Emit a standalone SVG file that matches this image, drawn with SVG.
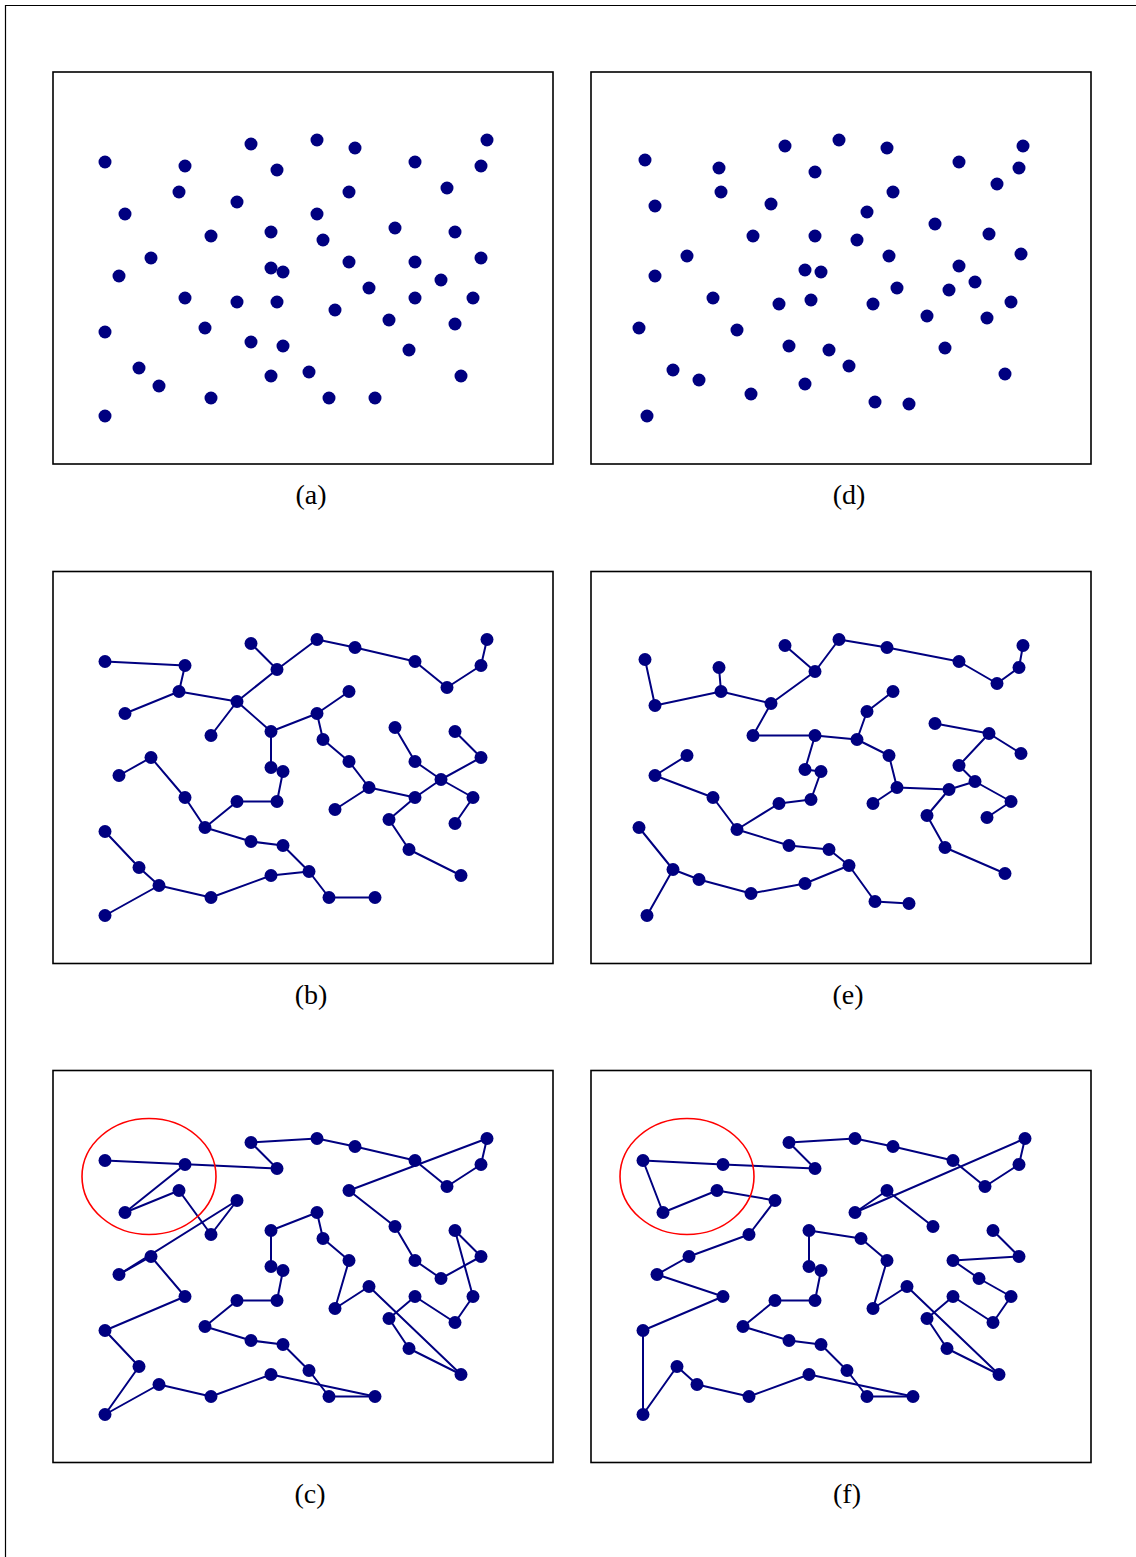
<svg xmlns="http://www.w3.org/2000/svg" width="1136" height="1557" viewBox="0 0 1136 1557">
<style>
.frame{fill:none;stroke:#000;stroke-width:1.6}
.nodes circle{fill:#000080}
.edges line{stroke:#000080;stroke-width:2;stroke-linecap:round}
.lbl{font-family:"Liberation Serif","Times New Roman",serif;font-size:28px;text-anchor:middle;fill:#000}
.ring{fill:none;stroke:#ff0000;stroke-width:1.6}
</style>
<rect width="1136" height="1557" fill="#fff"/>
<path d="M5.5,1557 V5.5 H1136" fill="none" stroke="#000" stroke-width="1.2"/>

<!-- Panel (a) -->
<g id="panel-a">
<rect class="frame" x="53" y="72" width="500" height="392"/>
<g class="nodes">
<g id="a1"><circle cx="105" cy="162" r="6.5"/></g><g id="a2"><circle cx="185" cy="166" r="6.5"/></g><g id="a3"><circle cx="251" cy="144" r="6.5"/></g><g id="a4"><circle cx="277" cy="170" r="6.5"/></g><g id="a5"><circle cx="317" cy="140" r="6.5"/></g><g id="a6"><circle cx="355" cy="148" r="6.5"/></g><g id="a7"><circle cx="415" cy="162" r="6.5"/></g><g id="a8"><circle cx="487" cy="140" r="6.5"/></g><g id="a9"><circle cx="481" cy="166" r="6.5"/></g><g id="a10"><circle cx="447" cy="188" r="6.5"/></g>
<g id="a11"><circle cx="179" cy="192" r="6.5"/></g><g id="a12"><circle cx="237" cy="202" r="6.5"/></g><g id="a13"><circle cx="349" cy="192" r="6.5"/></g><g id="a14"><circle cx="125" cy="214" r="6.5"/></g><g id="a15"><circle cx="317" cy="214" r="6.5"/></g><g id="a16"><circle cx="211" cy="236" r="6.5"/></g><g id="a17"><circle cx="271" cy="232" r="6.5"/></g><g id="a18"><circle cx="323" cy="240" r="6.5"/></g><g id="a19"><circle cx="395" cy="228" r="6.5"/></g><g id="a20"><circle cx="455" cy="232" r="6.5"/></g>
<g id="a21"><circle cx="151" cy="258" r="6.5"/></g><g id="a22"><circle cx="119" cy="276" r="6.5"/></g><g id="a23"><circle cx="271" cy="268" r="6.5"/></g><g id="a24"><circle cx="283" cy="272" r="6.5"/></g><g id="a25"><circle cx="349" cy="262" r="6.5"/></g><g id="a26"><circle cx="415" cy="262" r="6.5"/></g><g id="a27"><circle cx="481" cy="258" r="6.5"/></g><g id="a28"><circle cx="441" cy="280" r="6.5"/></g><g id="a29"><circle cx="369" cy="288" r="6.5"/></g><g id="a30"><circle cx="185" cy="298" r="6.5"/></g>
<g id="a31"><circle cx="237" cy="302" r="6.5"/></g><g id="a32"><circle cx="277" cy="302" r="6.5"/></g><g id="a33"><circle cx="335" cy="310" r="6.5"/></g><g id="a34"><circle cx="415" cy="298" r="6.5"/></g><g id="a35"><circle cx="473" cy="298" r="6.5"/></g><g id="a36"><circle cx="105" cy="332" r="6.5"/></g><g id="a37"><circle cx="205" cy="328" r="6.5"/></g><g id="a38"><circle cx="389" cy="320" r="6.5"/></g><g id="a39"><circle cx="455" cy="324" r="6.5"/></g><g id="a40"><circle cx="251" cy="342" r="6.5"/></g>
<g id="a41"><circle cx="283" cy="346" r="6.5"/></g><g id="a42"><circle cx="409" cy="350" r="6.5"/></g><g id="a43"><circle cx="139" cy="368" r="6.5"/></g><g id="a44"><circle cx="159" cy="386" r="6.5"/></g><g id="a45"><circle cx="271" cy="376" r="6.5"/></g><g id="a46"><circle cx="309" cy="372" r="6.5"/></g><g id="a47"><circle cx="461" cy="376" r="6.5"/></g><g id="a48"><circle cx="211" cy="398" r="6.5"/></g><g id="a49"><circle cx="329" cy="398" r="6.5"/></g><g id="a50"><circle cx="375" cy="398" r="6.5"/></g>
<g id="a51"><circle cx="105" cy="416" r="6.5"/></g>
</g>
<text class="lbl" x="311" y="504">(a)</text>
</g>

<!-- Panel (b) -->
<g id="panel-b" transform="translate(0,499.5)">
<rect class="frame" x="53" y="72" width="500" height="392"/>
<g class="edges" id="b-connectors">
<line x1="105" y1="162" x2="185" y2="166"/><line x1="185" y1="166" x2="179" y2="192"/><line x1="179" y1="192" x2="125" y2="214"/><line x1="179" y1="192" x2="237" y2="202"/><line x1="237" y1="202" x2="277" y2="170"/><line x1="251" y1="144" x2="277" y2="170"/><line x1="277" y1="170" x2="317" y2="140"/><line x1="237" y1="202" x2="211" y2="236"/><line x1="237" y1="202" x2="271" y2="232"/><line x1="271" y1="232" x2="317" y2="214"/>
<line x1="271" y1="232" x2="271" y2="268"/><line x1="271" y1="268" x2="283" y2="272"/><line x1="283" y1="272" x2="277" y2="302"/><line x1="277" y1="302" x2="237" y2="302"/><line x1="237" y1="302" x2="205" y2="328"/><line x1="151" y1="258" x2="119" y2="276"/><line x1="151" y1="258" x2="185" y2="298"/><line x1="185" y1="298" x2="205" y2="328"/><line x1="205" y1="328" x2="251" y2="342"/><line x1="251" y1="342" x2="283" y2="346"/>
<line x1="283" y1="346" x2="309" y2="372"/><line x1="271" y1="376" x2="309" y2="372"/><line x1="105" y1="332" x2="139" y2="368"/><line x1="139" y1="368" x2="159" y2="386"/><line x1="159" y1="386" x2="105" y2="416"/><line x1="159" y1="386" x2="211" y2="398"/><line x1="211" y1="398" x2="271" y2="376"/>
<line x1="317" y1="140" x2="355" y2="148"/><line x1="355" y1="148" x2="415" y2="162"/><line x1="415" y1="162" x2="447" y2="188"/><line x1="447" y1="188" x2="481" y2="166"/><line x1="481" y1="166" x2="487" y2="140"/><line x1="349" y1="192" x2="317" y2="214"/><line x1="317" y1="214" x2="323" y2="240"/><line x1="323" y1="240" x2="349" y2="262"/><line x1="349" y1="262" x2="369" y2="288"/><line x1="369" y1="288" x2="335" y2="310"/>
<line x1="369" y1="288" x2="415" y2="298"/><line x1="395" y1="228" x2="415" y2="262"/><line x1="415" y1="262" x2="441" y2="280"/><line x1="455" y1="232" x2="481" y2="258"/><line x1="481" y1="258" x2="441" y2="280"/><line x1="441" y1="280" x2="473" y2="298"/><line x1="473" y1="298" x2="455" y2="324"/><line x1="441" y1="280" x2="415" y2="298"/><line x1="415" y1="298" x2="389" y2="320"/><line x1="389" y1="320" x2="409" y2="350"/>
<line x1="409" y1="350" x2="461" y2="376"/><line x1="309" y1="372" x2="329" y2="398"/><line x1="329" y1="398" x2="375" y2="398"/>
</g>
<g class="nodes">
<g id="b1"><circle cx="105" cy="162" r="6.5"/></g><g id="b2"><circle cx="185" cy="166" r="6.5"/></g><g id="b3"><circle cx="251" cy="144" r="6.5"/></g><g id="b4"><circle cx="277" cy="170" r="6.5"/></g><g id="b5"><circle cx="317" cy="140" r="6.5"/></g><g id="b6"><circle cx="355" cy="148" r="6.5"/></g><g id="b7"><circle cx="415" cy="162" r="6.5"/></g><g id="b8"><circle cx="487" cy="140" r="6.5"/></g><g id="b9"><circle cx="481" cy="166" r="6.5"/></g><g id="b10"><circle cx="447" cy="188" r="6.5"/></g>
<g id="b11"><circle cx="179" cy="192" r="6.5"/></g><g id="b12"><circle cx="237" cy="202" r="6.5"/></g><g id="b13"><circle cx="349" cy="192" r="6.5"/></g><g id="b14"><circle cx="125" cy="214" r="6.5"/></g><g id="b15"><circle cx="317" cy="214" r="6.5"/></g><g id="b16"><circle cx="211" cy="236" r="6.5"/></g><g id="b17"><circle cx="271" cy="232" r="6.5"/></g><g id="b18"><circle cx="323" cy="240" r="6.5"/></g><g id="b19"><circle cx="395" cy="228" r="6.5"/></g><g id="b20"><circle cx="455" cy="232" r="6.5"/></g>
<g id="b21"><circle cx="151" cy="258" r="6.5"/></g><g id="b22"><circle cx="119" cy="276" r="6.5"/></g><g id="b23"><circle cx="271" cy="268" r="6.5"/></g><g id="b24"><circle cx="283" cy="272" r="6.5"/></g><g id="b25"><circle cx="349" cy="262" r="6.5"/></g><g id="b26"><circle cx="415" cy="262" r="6.5"/></g><g id="b27"><circle cx="481" cy="258" r="6.5"/></g><g id="b28"><circle cx="441" cy="280" r="6.5"/></g><g id="b29"><circle cx="369" cy="288" r="6.5"/></g><g id="b30"><circle cx="185" cy="298" r="6.5"/></g>
<g id="b31"><circle cx="237" cy="302" r="6.5"/></g><g id="b32"><circle cx="277" cy="302" r="6.5"/></g><g id="b33"><circle cx="335" cy="310" r="6.5"/></g><g id="b34"><circle cx="415" cy="298" r="6.5"/></g><g id="b35"><circle cx="473" cy="298" r="6.5"/></g><g id="b36"><circle cx="105" cy="332" r="6.5"/></g><g id="b37"><circle cx="205" cy="328" r="6.5"/></g><g id="b38"><circle cx="389" cy="320" r="6.5"/></g><g id="b39"><circle cx="455" cy="324" r="6.5"/></g><g id="b40"><circle cx="251" cy="342" r="6.5"/></g>
<g id="b41"><circle cx="283" cy="346" r="6.5"/></g><g id="b42"><circle cx="409" cy="350" r="6.5"/></g><g id="b43"><circle cx="139" cy="368" r="6.5"/></g><g id="b44"><circle cx="159" cy="386" r="6.5"/></g><g id="b45"><circle cx="271" cy="376" r="6.5"/></g><g id="b46"><circle cx="309" cy="372" r="6.5"/></g><g id="b47"><circle cx="461" cy="376" r="6.5"/></g><g id="b48"><circle cx="211" cy="398" r="6.5"/></g><g id="b49"><circle cx="329" cy="398" r="6.5"/></g><g id="b50"><circle cx="375" cy="398" r="6.5"/></g>
<g id="b51"><circle cx="105" cy="416" r="6.5"/></g>
</g>
<text class="lbl" x="311" y="504">(b)</text>
</g>

<!-- Panel (c) -->
<g id="panel-c" transform="translate(0,998.5)">
<rect class="frame" x="53" y="72" width="500" height="392"/>
<g class="edges" id="c-connectors">
<line x1="105" y1="162" x2="277" y2="170"/><line x1="185" y1="166" x2="125" y2="214"/><line x1="125" y1="214" x2="179" y2="192"/><line x1="179" y1="192" x2="211" y2="236"/><line x1="211" y1="236" x2="237" y2="202"/><line x1="237" y1="202" x2="119" y2="276"/><line x1="119" y1="276" x2="151" y2="258"/><line x1="151" y1="258" x2="185" y2="298"/><line x1="185" y1="298" x2="105" y2="332"/><line x1="105" y1="332" x2="139" y2="368"/>
<line x1="139" y1="368" x2="105" y2="416"/><line x1="105" y1="416" x2="159" y2="386"/><line x1="159" y1="386" x2="211" y2="398"/><line x1="211" y1="398" x2="271" y2="376"/><line x1="271" y1="376" x2="375" y2="398"/><line x1="375" y1="398" x2="329" y2="398"/><line x1="329" y1="398" x2="309" y2="372"/><line x1="309" y1="372" x2="283" y2="346"/><line x1="283" y1="346" x2="251" y2="342"/><line x1="251" y1="342" x2="205" y2="328"/>
<line x1="205" y1="328" x2="237" y2="302"/><line x1="237" y1="302" x2="277" y2="302"/><line x1="277" y1="302" x2="283" y2="272"/><line x1="283" y1="272" x2="271" y2="268"/><line x1="271" y1="268" x2="271" y2="232"/><line x1="271" y1="232" x2="317" y2="214"/><line x1="317" y1="214" x2="323" y2="240"/><line x1="323" y1="240" x2="349" y2="262"/><line x1="349" y1="262" x2="335" y2="310"/><line x1="335" y1="310" x2="369" y2="288"/>
<line x1="369" y1="288" x2="461" y2="376"/><line x1="461" y1="376" x2="409" y2="350"/><line x1="409" y1="350" x2="389" y2="320"/><line x1="389" y1="320" x2="415" y2="298"/><line x1="415" y1="298" x2="455" y2="324"/><line x1="455" y1="324" x2="473" y2="298"/><line x1="473" y1="298" x2="455" y2="232"/><line x1="455" y1="232" x2="481" y2="258"/><line x1="481" y1="258" x2="441" y2="280"/><line x1="441" y1="280" x2="415" y2="262"/>
<line x1="415" y1="262" x2="395" y2="228"/><line x1="395" y1="228" x2="349" y2="192"/><line x1="349" y1="192" x2="487" y2="140"/><line x1="487" y1="140" x2="481" y2="166"/><line x1="481" y1="166" x2="447" y2="188"/><line x1="447" y1="188" x2="415" y2="162"/><line x1="415" y1="162" x2="355" y2="148"/><line x1="355" y1="148" x2="317" y2="140"/><line x1="317" y1="140" x2="251" y2="144"/><line x1="251" y1="144" x2="277" y2="170"/>
</g>
<g class="nodes">
<g id="c1"><circle cx="105" cy="162" r="6.5"/></g><g id="c2"><circle cx="185" cy="166" r="6.5"/></g><g id="c3"><circle cx="251" cy="144" r="6.5"/></g><g id="c4"><circle cx="277" cy="170" r="6.5"/></g><g id="c5"><circle cx="317" cy="140" r="6.5"/></g><g id="c6"><circle cx="355" cy="148" r="6.5"/></g><g id="c7"><circle cx="415" cy="162" r="6.5"/></g><g id="c8"><circle cx="487" cy="140" r="6.5"/></g><g id="c9"><circle cx="481" cy="166" r="6.5"/></g><g id="c10"><circle cx="447" cy="188" r="6.5"/></g>
<g id="c11"><circle cx="179" cy="192" r="6.5"/></g><g id="c12"><circle cx="237" cy="202" r="6.5"/></g><g id="c13"><circle cx="349" cy="192" r="6.5"/></g><g id="c14"><circle cx="125" cy="214" r="6.5"/></g><g id="c15"><circle cx="317" cy="214" r="6.5"/></g><g id="c16"><circle cx="211" cy="236" r="6.5"/></g><g id="c17"><circle cx="271" cy="232" r="6.5"/></g><g id="c18"><circle cx="323" cy="240" r="6.5"/></g><g id="c19"><circle cx="395" cy="228" r="6.5"/></g><g id="c20"><circle cx="455" cy="232" r="6.5"/></g>
<g id="c21"><circle cx="151" cy="258" r="6.5"/></g><g id="c22"><circle cx="119" cy="276" r="6.5"/></g><g id="c23"><circle cx="271" cy="268" r="6.5"/></g><g id="c24"><circle cx="283" cy="272" r="6.5"/></g><g id="c25"><circle cx="349" cy="262" r="6.5"/></g><g id="c26"><circle cx="415" cy="262" r="6.5"/></g><g id="c27"><circle cx="481" cy="258" r="6.5"/></g><g id="c28"><circle cx="441" cy="280" r="6.5"/></g><g id="c29"><circle cx="369" cy="288" r="6.5"/></g><g id="c30"><circle cx="185" cy="298" r="6.5"/></g>
<g id="c31"><circle cx="237" cy="302" r="6.5"/></g><g id="c32"><circle cx="277" cy="302" r="6.5"/></g><g id="c33"><circle cx="335" cy="310" r="6.5"/></g><g id="c34"><circle cx="415" cy="298" r="6.5"/></g><g id="c35"><circle cx="473" cy="298" r="6.5"/></g><g id="c36"><circle cx="105" cy="332" r="6.5"/></g><g id="c37"><circle cx="205" cy="328" r="6.5"/></g><g id="c38"><circle cx="389" cy="320" r="6.5"/></g><g id="c39"><circle cx="455" cy="324" r="6.5"/></g><g id="c40"><circle cx="251" cy="342" r="6.5"/></g>
<g id="c41"><circle cx="283" cy="346" r="6.5"/></g><g id="c42"><circle cx="409" cy="350" r="6.5"/></g><g id="c43"><circle cx="139" cy="368" r="6.5"/></g><g id="c44"><circle cx="159" cy="386" r="6.5"/></g><g id="c45"><circle cx="271" cy="376" r="6.5"/></g><g id="c46"><circle cx="309" cy="372" r="6.5"/></g><g id="c47"><circle cx="461" cy="376" r="6.5"/></g><g id="c48"><circle cx="211" cy="398" r="6.5"/></g><g id="c49"><circle cx="329" cy="398" r="6.5"/></g><g id="c50"><circle cx="375" cy="398" r="6.5"/></g>
<g id="c51"><circle cx="105" cy="416" r="6.5"/></g>
</g>
<ellipse id="c-ring" class="ring" cx="149" cy="178" rx="67" ry="58"/>
<text class="lbl" x="310" y="504">(c)</text>
</g>

<!-- Panel (d) -->
<g id="panel-d">
<rect class="frame" x="591" y="72" width="500" height="392"/>
<g class="nodes">
<g id="d1"><circle cx="645" cy="160" r="6.5"/></g><g id="d2"><circle cx="719" cy="168" r="6.5"/></g><g id="d3"><circle cx="785" cy="146" r="6.5"/></g><g id="d4"><circle cx="839" cy="140" r="6.5"/></g><g id="d5"><circle cx="815" cy="172" r="6.5"/></g><g id="d6"><circle cx="721" cy="192" r="6.5"/></g><g id="d7"><circle cx="655" cy="206" r="6.5"/></g><g id="d8"><circle cx="771" cy="204" r="6.5"/></g><g id="d9"><circle cx="753" cy="236" r="6.5"/></g><g id="d10"><circle cx="815" cy="236" r="6.5"/></g>
<g id="d11"><circle cx="687" cy="256" r="6.5"/></g><g id="d12"><circle cx="655" cy="276" r="6.5"/></g><g id="d13"><circle cx="805" cy="270" r="6.5"/></g><g id="d14"><circle cx="821" cy="272" r="6.5"/></g><g id="d15"><circle cx="713" cy="298" r="6.5"/></g><g id="d16"><circle cx="779" cy="304" r="6.5"/></g><g id="d17"><circle cx="811" cy="300" r="6.5"/></g><g id="d18"><circle cx="639" cy="328" r="6.5"/></g><g id="d19"><circle cx="737" cy="330" r="6.5"/></g><g id="d20"><circle cx="789" cy="346" r="6.5"/></g>
<g id="d21"><circle cx="829" cy="350" r="6.5"/></g><g id="d22"><circle cx="849" cy="366" r="6.5"/></g><g id="d23"><circle cx="673" cy="370" r="6.5"/></g><g id="d24"><circle cx="699" cy="380" r="6.5"/></g><g id="d25"><circle cx="805" cy="384" r="6.5"/></g><g id="d26"><circle cx="751" cy="394" r="6.5"/></g><g id="d27"><circle cx="647" cy="416" r="6.5"/></g><g id="d28"><circle cx="887" cy="148" r="6.5"/></g><g id="d29"><circle cx="1023" cy="146" r="6.5"/></g><g id="d30"><circle cx="959" cy="162" r="6.5"/></g>
<g id="d31"><circle cx="1019" cy="168" r="6.5"/></g><g id="d32"><circle cx="997" cy="184" r="6.5"/></g><g id="d33"><circle cx="893" cy="192" r="6.5"/></g><g id="d34"><circle cx="867" cy="212" r="6.5"/></g><g id="d35"><circle cx="935" cy="224" r="6.5"/></g><g id="d36"><circle cx="989" cy="234" r="6.5"/></g><g id="d37"><circle cx="857" cy="240" r="6.5"/></g><g id="d38"><circle cx="889" cy="256" r="6.5"/></g><g id="d39"><circle cx="1021" cy="254" r="6.5"/></g><g id="d40"><circle cx="959" cy="266" r="6.5"/></g>
<g id="d41"><circle cx="975" cy="282" r="6.5"/></g><g id="d42"><circle cx="897" cy="288" r="6.5"/></g><g id="d43"><circle cx="949" cy="290" r="6.5"/></g><g id="d44"><circle cx="873" cy="304" r="6.5"/></g><g id="d45"><circle cx="1011" cy="302" r="6.5"/></g><g id="d46"><circle cx="927" cy="316" r="6.5"/></g><g id="d47"><circle cx="987" cy="318" r="6.5"/></g><g id="d48"><circle cx="945" cy="348" r="6.5"/></g><g id="d49"><circle cx="1005" cy="374" r="6.5"/></g><g id="d50"><circle cx="875" cy="402" r="6.5"/></g>
<g id="d51"><circle cx="909" cy="404" r="6.5"/></g>
</g>
<text class="lbl" x="849" y="504">(d)</text>
</g>

<!-- Panel (e) -->
<g id="panel-e" transform="translate(0,499.5)">
<rect class="frame" x="591" y="72" width="500" height="392"/>
<g class="edges" id="e-connectors">
<line x1="645" y1="160" x2="655" y2="206"/><line x1="655" y1="206" x2="721" y2="192"/><line x1="721" y1="192" x2="719" y2="168"/><line x1="721" y1="192" x2="771" y2="204"/><line x1="771" y1="204" x2="815" y2="172"/><line x1="785" y1="146" x2="815" y2="172"/><line x1="815" y1="172" x2="839" y2="140"/><line x1="839" y1="140" x2="887" y2="148"/><line x1="771" y1="204" x2="753" y2="236"/><line x1="753" y1="236" x2="815" y2="236"/>
<line x1="815" y1="236" x2="857" y2="240"/><line x1="815" y1="236" x2="805" y2="270"/><line x1="805" y1="270" x2="821" y2="272"/><line x1="821" y1="272" x2="811" y2="300"/><line x1="811" y1="300" x2="779" y2="304"/><line x1="779" y1="304" x2="737" y2="330"/><line x1="687" y1="256" x2="655" y2="276"/><line x1="655" y1="276" x2="713" y2="298"/><line x1="713" y1="298" x2="737" y2="330"/><line x1="737" y1="330" x2="789" y2="346"/>
<line x1="789" y1="346" x2="829" y2="350"/><line x1="829" y1="350" x2="849" y2="366"/><line x1="639" y1="328" x2="673" y2="370"/><line x1="673" y1="370" x2="647" y2="416"/><line x1="673" y1="370" x2="699" y2="380"/><line x1="699" y1="380" x2="751" y2="394"/><line x1="751" y1="394" x2="805" y2="384"/><line x1="805" y1="384" x2="849" y2="366"/>
<line x1="887" y1="148" x2="959" y2="162"/><line x1="959" y1="162" x2="997" y2="184"/><line x1="997" y1="184" x2="1019" y2="168"/><line x1="1019" y1="168" x2="1023" y2="146"/><line x1="893" y1="192" x2="867" y2="212"/><line x1="867" y1="212" x2="857" y2="240"/><line x1="857" y1="240" x2="889" y2="256"/><line x1="889" y1="256" x2="897" y2="288"/><line x1="897" y1="288" x2="873" y2="304"/><line x1="897" y1="288" x2="949" y2="290"/>
<line x1="935" y1="224" x2="989" y2="234"/><line x1="989" y1="234" x2="1021" y2="254"/><line x1="989" y1="234" x2="959" y2="266"/><line x1="959" y1="266" x2="975" y2="282"/><line x1="949" y1="290" x2="975" y2="282"/><line x1="975" y1="282" x2="1011" y2="302"/><line x1="1011" y1="302" x2="987" y2="318"/><line x1="949" y1="290" x2="927" y2="316"/><line x1="927" y1="316" x2="945" y2="348"/><line x1="945" y1="348" x2="1005" y2="374"/>
<line x1="849" y1="366" x2="875" y2="402"/><line x1="875" y1="402" x2="909" y2="404"/>
</g>
<g class="nodes">
<g id="e1"><circle cx="645" cy="160" r="6.5"/></g><g id="e2"><circle cx="719" cy="168" r="6.5"/></g><g id="e3"><circle cx="785" cy="146" r="6.5"/></g><g id="e4"><circle cx="839" cy="140" r="6.5"/></g><g id="e5"><circle cx="815" cy="172" r="6.5"/></g><g id="e6"><circle cx="721" cy="192" r="6.5"/></g><g id="e7"><circle cx="655" cy="206" r="6.5"/></g><g id="e8"><circle cx="771" cy="204" r="6.5"/></g><g id="e9"><circle cx="753" cy="236" r="6.5"/></g><g id="e10"><circle cx="815" cy="236" r="6.5"/></g>
<g id="e11"><circle cx="687" cy="256" r="6.5"/></g><g id="e12"><circle cx="655" cy="276" r="6.5"/></g><g id="e13"><circle cx="805" cy="270" r="6.5"/></g><g id="e14"><circle cx="821" cy="272" r="6.5"/></g><g id="e15"><circle cx="713" cy="298" r="6.5"/></g><g id="e16"><circle cx="779" cy="304" r="6.5"/></g><g id="e17"><circle cx="811" cy="300" r="6.5"/></g><g id="e18"><circle cx="639" cy="328" r="6.5"/></g><g id="e19"><circle cx="737" cy="330" r="6.5"/></g><g id="e20"><circle cx="789" cy="346" r="6.5"/></g>
<g id="e21"><circle cx="829" cy="350" r="6.5"/></g><g id="e22"><circle cx="849" cy="366" r="6.5"/></g><g id="e23"><circle cx="673" cy="370" r="6.5"/></g><g id="e24"><circle cx="699" cy="380" r="6.5"/></g><g id="e25"><circle cx="805" cy="384" r="6.5"/></g><g id="e26"><circle cx="751" cy="394" r="6.5"/></g><g id="e27"><circle cx="647" cy="416" r="6.5"/></g><g id="e28"><circle cx="887" cy="148" r="6.5"/></g><g id="e29"><circle cx="1023" cy="146" r="6.5"/></g><g id="e30"><circle cx="959" cy="162" r="6.5"/></g>
<g id="e31"><circle cx="1019" cy="168" r="6.5"/></g><g id="e32"><circle cx="997" cy="184" r="6.5"/></g><g id="e33"><circle cx="893" cy="192" r="6.5"/></g><g id="e34"><circle cx="867" cy="212" r="6.5"/></g><g id="e35"><circle cx="935" cy="224" r="6.5"/></g><g id="e36"><circle cx="989" cy="234" r="6.5"/></g><g id="e37"><circle cx="857" cy="240" r="6.5"/></g><g id="e38"><circle cx="889" cy="256" r="6.5"/></g><g id="e39"><circle cx="1021" cy="254" r="6.5"/></g><g id="e40"><circle cx="959" cy="266" r="6.5"/></g>
<g id="e41"><circle cx="975" cy="282" r="6.5"/></g><g id="e42"><circle cx="897" cy="288" r="6.5"/></g><g id="e43"><circle cx="949" cy="290" r="6.5"/></g><g id="e44"><circle cx="873" cy="304" r="6.5"/></g><g id="e45"><circle cx="1011" cy="302" r="6.5"/></g><g id="e46"><circle cx="927" cy="316" r="6.5"/></g><g id="e47"><circle cx="987" cy="318" r="6.5"/></g><g id="e48"><circle cx="945" cy="348" r="6.5"/></g><g id="e49"><circle cx="1005" cy="374" r="6.5"/></g><g id="e50"><circle cx="875" cy="402" r="6.5"/></g>
<g id="e51"><circle cx="909" cy="404" r="6.5"/></g>
</g>
<text class="lbl" x="848" y="504">(e)</text>
</g>

<!-- Panel (f) -->
<g id="panel-f" transform="translate(538,998.5)">
<rect class="frame" x="53" y="72" width="500" height="392"/>
<g class="edges" id="f-connectors">
<line x1="395" y1="228" x2="349" y2="192"/><line x1="349" y1="192" x2="317" y2="214"/><line x1="317" y1="214" x2="487" y2="140"/><line x1="487" y1="140" x2="481" y2="166"/><line x1="481" y1="166" x2="447" y2="188"/><line x1="447" y1="188" x2="415" y2="162"/><line x1="415" y1="162" x2="355" y2="148"/><line x1="355" y1="148" x2="317" y2="140"/><line x1="317" y1="140" x2="251" y2="144"/><line x1="251" y1="144" x2="277" y2="170"/>
<line x1="277" y1="170" x2="185" y2="166"/><line x1="185" y1="166" x2="105" y2="162"/><line x1="105" y1="162" x2="125" y2="214"/><line x1="125" y1="214" x2="179" y2="192"/><line x1="179" y1="192" x2="237" y2="202"/><line x1="237" y1="202" x2="211" y2="236"/><line x1="211" y1="236" x2="151" y2="258"/><line x1="151" y1="258" x2="119" y2="276"/><line x1="119" y1="276" x2="185" y2="298"/><line x1="185" y1="298" x2="105" y2="332"/>
<line x1="105" y1="332" x2="105" y2="416"/><line x1="105" y1="416" x2="139" y2="368"/><line x1="139" y1="368" x2="159" y2="386"/><line x1="159" y1="386" x2="211" y2="398"/><line x1="211" y1="398" x2="271" y2="376"/><line x1="271" y1="376" x2="375" y2="398"/><line x1="375" y1="398" x2="329" y2="398"/><line x1="329" y1="398" x2="309" y2="372"/><line x1="309" y1="372" x2="283" y2="346"/><line x1="283" y1="346" x2="251" y2="342"/>
<line x1="251" y1="342" x2="205" y2="328"/><line x1="205" y1="328" x2="237" y2="302"/><line x1="237" y1="302" x2="277" y2="302"/><line x1="277" y1="302" x2="283" y2="272"/><line x1="283" y1="272" x2="271" y2="268"/><line x1="271" y1="268" x2="271" y2="232"/><line x1="271" y1="232" x2="323" y2="240"/><line x1="323" y1="240" x2="349" y2="262"/><line x1="349" y1="262" x2="335" y2="310"/><line x1="335" y1="310" x2="369" y2="288"/>
<line x1="369" y1="288" x2="461" y2="376"/><line x1="461" y1="376" x2="409" y2="350"/><line x1="409" y1="350" x2="389" y2="320"/><line x1="389" y1="320" x2="415" y2="298"/><line x1="415" y1="298" x2="455" y2="324"/><line x1="455" y1="324" x2="473" y2="298"/><line x1="473" y1="298" x2="441" y2="280"/><line x1="441" y1="280" x2="415" y2="262"/><line x1="415" y1="262" x2="481" y2="258"/><line x1="481" y1="258" x2="455" y2="232"/>
</g>
<g class="nodes">
<g id="f1"><circle cx="105" cy="162" r="6.5"/></g><g id="f2"><circle cx="185" cy="166" r="6.5"/></g><g id="f3"><circle cx="251" cy="144" r="6.5"/></g><g id="f4"><circle cx="277" cy="170" r="6.5"/></g><g id="f5"><circle cx="317" cy="140" r="6.5"/></g><g id="f6"><circle cx="355" cy="148" r="6.5"/></g><g id="f7"><circle cx="415" cy="162" r="6.5"/></g><g id="f8"><circle cx="487" cy="140" r="6.5"/></g><g id="f9"><circle cx="481" cy="166" r="6.5"/></g><g id="f10"><circle cx="447" cy="188" r="6.5"/></g>
<g id="f11"><circle cx="179" cy="192" r="6.5"/></g><g id="f12"><circle cx="237" cy="202" r="6.5"/></g><g id="f13"><circle cx="349" cy="192" r="6.5"/></g><g id="f14"><circle cx="125" cy="214" r="6.5"/></g><g id="f15"><circle cx="317" cy="214" r="6.5"/></g><g id="f16"><circle cx="211" cy="236" r="6.5"/></g><g id="f17"><circle cx="271" cy="232" r="6.5"/></g><g id="f18"><circle cx="323" cy="240" r="6.5"/></g><g id="f19"><circle cx="395" cy="228" r="6.5"/></g><g id="f20"><circle cx="455" cy="232" r="6.5"/></g>
<g id="f21"><circle cx="151" cy="258" r="6.5"/></g><g id="f22"><circle cx="119" cy="276" r="6.5"/></g><g id="f23"><circle cx="271" cy="268" r="6.5"/></g><g id="f24"><circle cx="283" cy="272" r="6.5"/></g><g id="f25"><circle cx="349" cy="262" r="6.5"/></g><g id="f26"><circle cx="415" cy="262" r="6.5"/></g><g id="f27"><circle cx="481" cy="258" r="6.5"/></g><g id="f28"><circle cx="441" cy="280" r="6.5"/></g><g id="f29"><circle cx="369" cy="288" r="6.5"/></g><g id="f30"><circle cx="185" cy="298" r="6.5"/></g>
<g id="f31"><circle cx="237" cy="302" r="6.5"/></g><g id="f32"><circle cx="277" cy="302" r="6.5"/></g><g id="f33"><circle cx="335" cy="310" r="6.5"/></g><g id="f34"><circle cx="415" cy="298" r="6.5"/></g><g id="f35"><circle cx="473" cy="298" r="6.5"/></g><g id="f36"><circle cx="105" cy="332" r="6.5"/></g><g id="f37"><circle cx="205" cy="328" r="6.5"/></g><g id="f38"><circle cx="389" cy="320" r="6.5"/></g><g id="f39"><circle cx="455" cy="324" r="6.5"/></g><g id="f40"><circle cx="251" cy="342" r="6.5"/></g>
<g id="f41"><circle cx="283" cy="346" r="6.5"/></g><g id="f42"><circle cx="409" cy="350" r="6.5"/></g><g id="f43"><circle cx="139" cy="368" r="6.5"/></g><g id="f44"><circle cx="159" cy="386" r="6.5"/></g><g id="f45"><circle cx="271" cy="376" r="6.5"/></g><g id="f46"><circle cx="309" cy="372" r="6.5"/></g><g id="f47"><circle cx="461" cy="376" r="6.5"/></g><g id="f48"><circle cx="211" cy="398" r="6.5"/></g><g id="f49"><circle cx="329" cy="398" r="6.5"/></g><g id="f50"><circle cx="375" cy="398" r="6.5"/></g>
<g id="f51"><circle cx="105" cy="416" r="6.5"/></g>
</g>
<ellipse id="f-ring" class="ring" cx="149" cy="178" rx="67" ry="58"/>
<text class="lbl" x="309" y="504">(f)</text>
</g>
</svg>
